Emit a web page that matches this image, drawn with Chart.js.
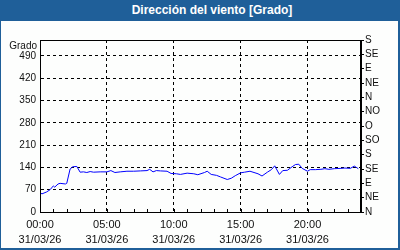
<!DOCTYPE html>
<html>
<head>
<meta charset="utf-8">
<script src="https://cdn.jsdelivr.net/npm/chart.js"></script>
<style>
  html, body { margin: 0; padding: 0; background: #fff; }
  #frame {
    position: relative; width: 400px; height: 250px; background: #1f5f99;
    box-sizing: border-box;
  }
  #title {
    position: absolute; left: 0; top: 0; width: 400px; height: 21px;
    color: #fff; font: bold 12px "Liberation Sans", Arial, sans-serif;
    line-height: 21px; text-align: center; text-indent: 24px;
  }
  #chart-box {
    position: absolute; left: 1px; top: 21px; width: 397px; height: 227px;
    background: #fdfefd;
  }
</style>
</head>
<body>
<div id="frame">
  <div id="title">Dirección del viento [Grado]</div>
  <div id="chart-box"><canvas id="myChart" width="397" height="227"></canvas></div>
</div>
<script>
// hours since 00:00 on 31/03/26
const hours = [
  0.0, 0.15, 0.5, 0.75, 1.0, 1.1, 1.35, 1.5, 1.9, 2.0,
  2.25, 2.45, 2.75, 3.0, 3.25, 3.5, 3.75, 4.0, 4.5, 5.0,
  5.3, 5.6, 6.0, 6.5, 7.0, 7.5, 8.0, 8.2, 8.45, 8.7,
  9.0, 9.5, 9.8, 10.2, 10.5, 11.0, 11.5, 11.8, 12.3, 12.5,
  12.8, 13.2, 13.5, 14.0, 14.3, 14.6, 15.0, 15.3, 15.7, 16.0,
  16.3, 16.6, 17.0, 17.3, 17.55, 17.9, 18.15, 18.5, 18.85, 19.1,
  19.35, 19.6, 20.0, 20.2, 20.6, 21.0, 21.3, 21.6, 22.0, 22.5,
  22.8, 23.2, 23.5, 23.8,
];
const windDir = [
  60, 57, 63, 70, 82, 78, 88, 90, 88, 90,
  135, 142, 143, 125, 126, 124, 127, 125, 126, 126,
  130, 124, 126, 128, 128, 129, 130, 134, 126, 130,
  129, 128, 121, 120, 118, 122, 120, 117, 124, 128,
  118, 115, 110, 102, 106, 114, 123, 125, 128, 124,
  120, 113, 125, 133, 145, 118, 130, 131, 142, 149,
  150, 137, 128, 133, 133, 134, 136, 134, 136, 137,
  138, 137, 144, 136,
];
const xTickLabels = ["00:00", "05:00", "10:00", "15:00", "20:00"];
const dateLabel = "31/03/26";
const compassLabels = ["N", "NE", "E", "SE", "S", "SO", "O", "NO", "N", "NE", "E", "SE", "S"];

const FONT = "'Liberation Sans', Arial, sans-serif";
const TXT = "#101010";

// box around plot, hourly ticks inside the bottom axis, "Grado" unit label
const framePlugin = {
  id: "framePlugin",
  afterDraw(chart) {
    const { ctx, chartArea: a, scales } = chart;
    ctx.save();
    ctx.strokeStyle = "#000";
    ctx.lineWidth = 1;
    ctx.strokeRect(a.left + 0.5, a.top + 0.5, a.right - a.left - 1, a.bottom - a.top);
    ctx.beginPath();
    for (let h = 1; h < 24; h++) {
      const x = Math.round(scales.x.getPixelForValue(h)) + 0.5;
      ctx.moveTo(x, a.bottom);
      ctx.lineTo(x, a.bottom - 3);
    }
    ctx.stroke();
    ctx.fillStyle = TXT;
    ctx.font = "10px " + FONT;
    ctx.textAlign = "right";
    ctx.textBaseline = "middle";
    ctx.fillText("Grado", a.left - 3, a.top + 6);
    ctx.restore();
  },
};

new Chart(document.getElementById("myChart").getContext("2d"), {
  type: "line",
  data: {
    datasets: [
      {
        data: hours.map((h, i) => ({ x: h, y: windDir[i] })),
        borderColor: "#0000ff",
        borderWidth: 1,
        pointRadius: 0,
        tension: 0,
        fill: false,
        yAxisID: "y",
      },
    ],
  },
  options: {
    responsive: false,
    animation: false,
    layout: { padding: { top: 19, left: 0, right: 0, bottom: 0 } },
    plugins: { legend: { display: false }, tooltip: { enabled: false } },
    scales: {
      x: {
        type: "linear",
        min: 0,
        max: 24,
        afterBuildTicks: (s) => { s.ticks = s.ticks.filter((t) => t.value % 5 === 0 && t.value < 24); },
        afterFit: (s) => { s.height = 36; },
        ticks: {
          stepSize: 5,
          autoSkip: false,
          maxRotation: 0,
          padding: 6,
          color: TXT,
          font: { family: FONT, size: 11, lineHeight: 1.35 },
          callback: (v) => [xTickLabels[v / 5], dateLabel],
        },
        grid: {
          drawTicks: false,
          color: (c) => (c.tick && c.tick.value > 0 ? "#000" : "transparent"),
          lineWidth: 1,
        },
        border: { display: true, color: "#000", dash: [3, 3] },
      },
      y: {
        position: "left",
        min: 0,
        max: 540,
        afterBuildTicks: (s) => { s.ticks = s.ticks.filter((t) => t.value % 70 === 0); },
        afterFit: (s) => { s.width = 39; },
        ticks: {
          stepSize: 70,
          autoSkip: false,
          padding: 4,
          color: TXT,
          font: { family: FONT, size: 10 },
        },
        grid: {
          drawTicks: false,
          color: (c) => (c.tick && c.tick.value > 0 ? "#000" : "transparent"),
        },
        border: { display: true, color: "#000", dash: [3, 3] },
      },
      y2: {
        position: "right",
        min: 0,
        max: 540,
        afterBuildTicks: (s) => { s.ticks = s.ticks.filter((t) => t.value % 45 === 0); },
        afterFit: (s) => { s.width = 37; },
        ticks: {
          stepSize: 45,
          autoSkip: false,
          padding: 1,
          color: TXT,
          font: { family: FONT, size: 10 },
          callback: (v) => compassLabels[v / 45],
        },
        grid: { drawOnChartArea: false, drawTicks: true, tickLength: 3, color: "#000" },
        border: { display: true, color: "#000" },
      },
    },
  },
  plugins: [framePlugin],
});
</script>
</body>
</html>
